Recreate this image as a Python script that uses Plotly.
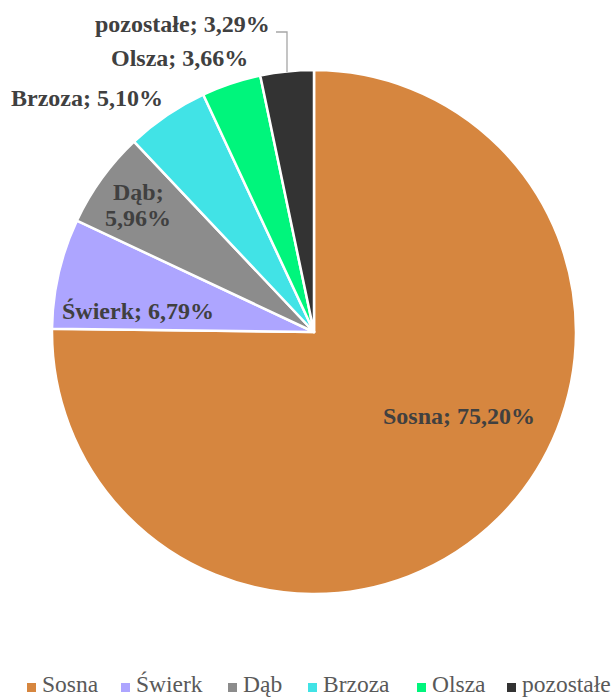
import plotly.graph_objects as go

W, H = 614, 697

species = ["Sosna", "Świerk", "Dąb", "Brzoza", "Olsza", "pozostałe"]
shares = [75.20, 6.79, 5.96, 5.10, 3.66, 3.29]
colors = ["#D6863F", "#ADA5FF", "#8C8C8C", "#41E3E6", "#00F57C", "#333333"]

# label anchor centres in pixels (layout only)
label_pos = {
    "Sosna": (459, 416),
    "Świerk": (138, 311),
    "Dąb": (138, 205),
    "Brzoza": (87, 98),
    "Olsza": (179, 58),
    "pozostałe": (182, 24),
}
# legend text left edges in pixels (layout only)
legend_x = [42, 136, 243, 323, 432, 522]
legend_y = 684

SERIF = "Times New Roman, Liberation Serif, serif"


def px(x, y):
    return x / W, 1 - y / H


cx, cy, r = 314, 332, 262

fig = go.Figure(
    go.Pie(
        labels=species,
        values=shares,
        sort=False,
        direction="clockwise",
        rotation=0,
        marker=dict(colors=colors, line=dict(color="white", width=2.5)),
        textinfo="none",
        hoverinfo="label+percent",
        showlegend=False,
        domain=dict(x=[(cx - r) / W, (cx + r) / W], y=[1 - (cy + r) / H, 1 - (cy - r) / H]),
    )
)

lab_font = dict(family=SERIF, size=24, color="#404040")
annotations = []
for name, v in zip(species, shares):
    txt = f"{v:.2f}%".replace(".", ",")
    x, y = label_pos[name]
    if name == "Dąb":
        for line, dy in ((f"<b>{name};</b>", -13), (f"<b>{txt}</b>", 13)):
            ax, ay = px(x, y + dy)
            annotations.append(dict(x=ax, y=ay, xref="paper", yref="paper", text=line,
                                    showarrow=False, font=lab_font, xanchor="center", yanchor="middle"))
    else:
        ax, ay = px(x, y)
        annotations.append(dict(x=ax, y=ay, xref="paper", yref="paper", text=f"<b>{name}; {txt}</b>",
                                showarrow=False, font=lab_font, xanchor="center", yanchor="middle"))

shapes = []
# leader line for "pozostałe"
p1 = px(276, 32)
p2 = px(287, 32)
p3 = px(287, 72)
shapes.append(dict(type="path", xref="paper", yref="paper",
                   path=f"M {p1[0]},{p1[1]} L {p2[0]},{p2[1]} L {p3[0]},{p3[1]}",
                   line=dict(color="#A6A6A6", width=1.3)))

# legend (manual, single row)
leg_font = dict(family=SERIF, size=23.5, color="#595959")
for name, col, lx in zip(species, colors, legend_x):
    x0, y0 = px(lx - 15, legend_y + 8)
    x1, y1 = px(lx - 6, legend_y - 1)
    shapes.append(dict(type="rect", xref="paper", yref="paper", x0=x0, x1=x1, y0=y0, y1=y1,
                       fillcolor=col, line=dict(width=0)))
    tx, ty = px(lx, legend_y)
    annotations.append(dict(x=tx, y=ty, xref="paper", yref="paper", text=name, showarrow=False,
                            font=leg_font, xanchor="left", yanchor="middle", xshift=-2))

fig.update_layout(
    width=W, height=H,
    margin=dict(l=0, r=0, t=0, b=0),
    paper_bgcolor="white",
    plot_bgcolor="white",
    annotations=annotations,
    shapes=shapes,
    showlegend=False,
)

fig.write_html("out.html")
